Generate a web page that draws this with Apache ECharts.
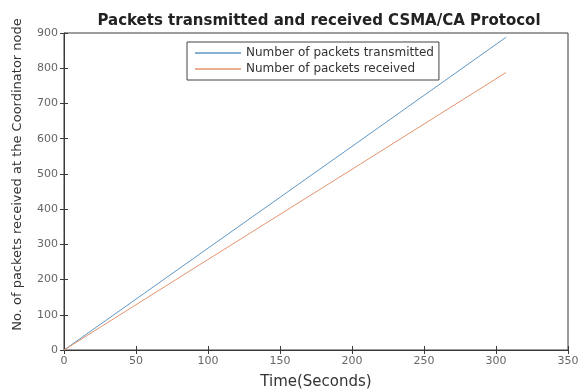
<!DOCTYPE html>
<html>
<head>
<meta charset="utf-8">
<script src="https://cdn.jsdelivr.net/npm/echarts@6/dist/echarts.min.js"></script>
<style>html,body{margin:0;padding:0;background:#fff}#c{width:579px;height:390px}</style>
</head>
<body>
<div id="c"></div>
<script>
var titleText = 'Packets transmitted and received CSMA/CA Protocol';
var xName = 'Time(Seconds)';
var yName = 'No. of packets received at the Coordinator node';
var seriesNames = ['Number of packets transmitted', 'Number of packets received'];
var timeSeconds = [0, 100, 200, 307];
var transmitted = [0, 289, 578, 888];
var received = [0, 257, 513, 788];

var chart = echarts.init(document.getElementById('c'), null, {renderer: 'canvas'});
var axisCol = '#3a3a3a';
var labelCol = '#666';
var fam = 'DejaVu Sans';
function pairs(xs, ys){ return xs.map(function(x,i){ return [x, ys[i]]; }); }
function mirrorAxis(pos, max, interval){
  return {
    type: 'value', position: pos, min: 0, max: max, interval: interval,
    axisLine: {show: false},
    axisTick: {show: true, inside: true, length: 4, lineStyle: {color: axisCol}},
    axisLabel: {show: false}, splitLine: {show: false}
  };
}
chart.setOption({
  animation: false,
  backgroundColor: '#fff',
  title: {
    text: titleText, left: 314, top: 9, textAlign: 'center',
    textStyle: {fontFamily: fam, fontWeight: 'bold', fontSize: 15, color: '#222'}
  },
  legend: {
    orient: 'vertical', left: 187, top: 42,
    data: seriesNames,
    icon: 'path://M0,0L1,0L1,0.03L0,0.03Z',
    itemWidth: 46, itemHeight: 1.5, itemGap: 4,
    padding: [5, 5, 5, 8],
    borderColor: '#444', borderWidth: 1,
    textStyle: {fontFamily: fam, fontSize: 12, color: '#333'}
  },
  grid: {left: 64, right: 11, top: 33, bottom: 40, show: true, borderColor: axisCol, borderWidth: 1, outerBoundsMode: 'none', containLabel: false},
  xAxis: [{
    type: 'value', min: 0, max: 350, interval: 50,
    name: xName, nameLocation: 'middle', nameGap: 25,
    nameTextStyle: {fontFamily: fam, fontSize: 15, color: '#333'},
    axisLine: {show: true, lineStyle: {color: axisCol}},
    axisTick: {show: true, inside: true, length: 4, lineStyle: {color: axisCol}},
    axisLabel: {fontFamily: fam, fontSize: 11, color: labelCol, margin: 6},
    splitLine: {show: false}
  }, mirrorAxis('top', 350, 50)],
  yAxis: [{
    type: 'value', min: 0, max: 900, interval: 100,
    name: yName, nameLocation: 'middle', nameGap: 40,
    nameTextStyle: {fontFamily: fam, fontSize: 13, color: '#333', padding: [0, 0, 0, 34]},
    axisLine: {show: true, lineStyle: {color: axisCol}},
    axisTick: {show: true, inside: true, length: 4, lineStyle: {color: axisCol}},
    axisLabel: {fontFamily: fam, fontSize: 11, color: labelCol, margin: 6},
    splitLine: {show: false}
  }, mirrorAxis('right', 900, 100)],
  series: [
    {name: seriesNames[0], type: 'line', data: pairs(timeSeconds, transmitted), showSymbol: false,
     lineStyle: {color: '#5f97c4', width: 1}, itemStyle: {color: '#5f97c4'}},
    {name: seriesNames[1], type: 'line', data: pairs(timeSeconds, received), showSymbol: false,
     lineStyle: {color: '#e3946c', width: 1}, itemStyle: {color: '#e3946c'}}
  ]
});
</script>
</body>
</html>
